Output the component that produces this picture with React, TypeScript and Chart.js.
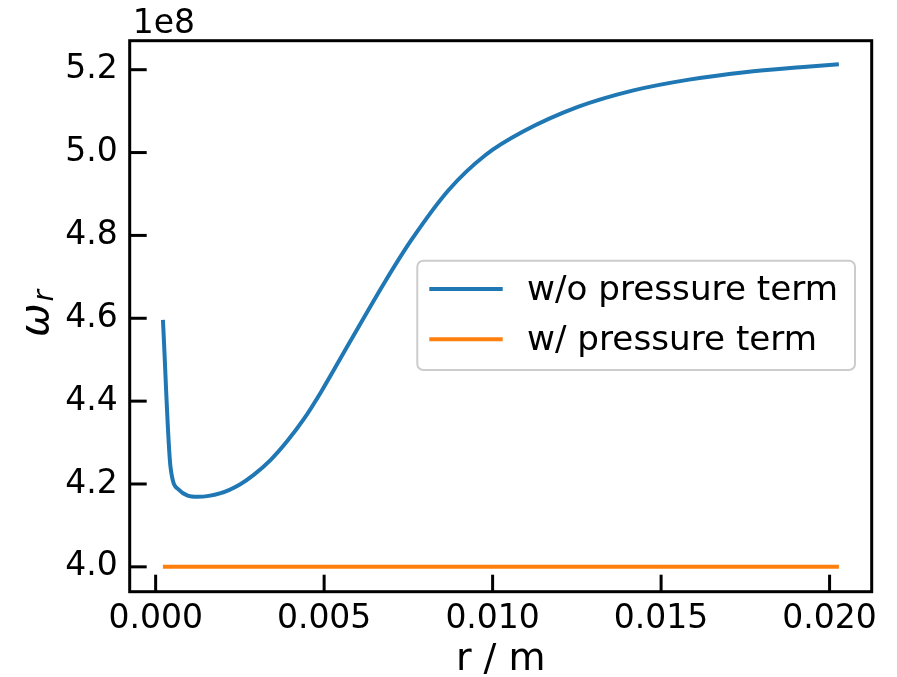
import React, { useEffect, useRef } from 'react';
import { Chart, registerables } from 'chart.js';

Chart.register(...registerables);

// ---------- data ----------
const radius = [
  0.000216, 0.000444, 0.00069, 0.00095, 0.00124, 0.00193, 0.0025, 0.00291,
  0.0034, 0.0039, 0.0044, 0.0049, 0.00578, 0.00682, 0.00759, 0.00869,
  0.00979, 0.01089, 0.01253, 0.01418, 0.01583, 0.01748, 0.01913, 0.020276,
];
const omegaNoPressure = [
  4.596e8, 4.239e8, 4.186e8, 4.172e8, 4.169e8, 4.178e8, 4.199e8, 4.222e8,
  4.257e8, 4.303e8, 4.357e8, 4.421e8, 4.545e8, 4.69e8, 4.789e8, 4.909e8,
  4.994e8, 5.05e8, 5.11e8, 5.15e8, 5.176e8, 5.194e8, 5.206e8, 5.213e8,
];
const radiusPressure = [0.000216, 0.020276];
const omegaPressure = [4.0e8, 4.0e8];

const seriesLabels = ['w/o pressure term', 'w/ pressure term'];
const seriesColors = ['#1f77b4', '#ff7f0e'];
const xTicks = [0, 0.005, 0.01, 0.015, 0.02];
const yTicks = [4.0e8, 4.2e8, 4.4e8, 4.6e8, 4.8e8, 5.0e8, 5.2e8];
const xRange = [-0.00077, 0.02125];
const yRange = [3.94e8, 5.27e8];
const xTitle = 'r / m';
const yTitleMain = 'ω';
const yTitleSub = 'r';
const offsetText = '1e8';

const FONT = '"DejaVu Sans", sans-serif';

const decorPlugin = {
  id: 'decor',
  afterDraw(chart: any) {
    const ctx = chart.ctx;
    const a = chart.chartArea;
    const xs = chart.scales.x;
    const ys = chart.scales.y;
    ctx.save();
    // frame
    ctx.strokeStyle = '#000';
    ctx.lineWidth = 3;
    ctx.strokeRect(a.left, a.top, a.right - a.left, a.bottom - a.top);
    // inward ticks
    ctx.lineWidth = 3;
    const tl = 17;
    xTicks.forEach((v) => {
      const px = xs.getPixelForValue(v);
      ctx.beginPath();
      ctx.moveTo(px, a.bottom);
      ctx.lineTo(px, a.bottom - tl);
      ctx.stroke();
    });
    yTicks.forEach((v) => {
      const py = ys.getPixelForValue(v);
      ctx.beginPath();
      ctx.moveTo(a.left, py);
      ctx.lineTo(a.left + tl, py);
      ctx.stroke();
    });
    // offset text
    ctx.fillStyle = '#000';
    ctx.font = `33px ${FONT}`;
    ctx.textAlign = 'left';
    ctx.textBaseline = 'alphabetic';
    ctx.fillText(offsetText, a.left + 3, 33);
    // x title
    ctx.font = `38px ${FONT}`;
    ctx.textAlign = 'center';
    ctx.fillText(xTitle, (a.left + a.right) / 2, 670);
    // y title
    ctx.save();
    ctx.translate(48, 337);
    ctx.rotate(-Math.PI / 2);
    ctx.textAlign = 'left';
    ctx.font = `italic 40px ${FONT}`;
    ctx.fillText(yTitleMain, 0, 0);
    const w = ctx.measureText(yTitleMain).width;
    ctx.font = `italic 28px ${FONT}`;
    ctx.fillText(yTitleSub, w + 2, 5);
    ctx.restore();
    // legend
    const lx = 417.3, ly = 260.7, lw = 855 - 417.3, lh = 370 - 260.7;
    ctx.beginPath();
    ctx.roundRect(lx, ly, lw, lh, 6);
    ctx.fillStyle = 'rgba(255,255,255,0.8)';
    ctx.fill();
    ctx.strokeStyle = '#cccccc';
    ctx.lineWidth = 2;
    ctx.stroke();
    const rows = [289, 339.3];
    rows.forEach((ry, i) => {
      ctx.strokeStyle = seriesColors[i];
      ctx.lineWidth = 4;
      ctx.beginPath();
      ctx.moveTo(429.3, ry);
      ctx.lineTo(502.7, ry);
      ctx.stroke();
      ctx.fillStyle = '#000';
      ctx.font = `34.2px ${FONT}`;
      ctx.textAlign = 'left';
      ctx.textBaseline = 'alphabetic';
      ctx.fillText(seriesLabels[i], 527, ry + 11);
    });
    ctx.restore();
  },
};

export default function App() {
  const ref = useRef<HTMLCanvasElement | null>(null);
  useEffect(() => {
    if (!ref.current) return;
    const chart = new Chart(ref.current, {
      type: 'line',
      data: {
        datasets: [
          {
            label: seriesLabels[0],
            data: radius.map((r, i) => ({ x: r, y: omegaNoPressure[i] })),
            borderColor: seriesColors[0],
            borderWidth: 4,
            pointRadius: 0,
            cubicInterpolationMode: 'monotone',
            fill: false,
          },
          {
            label: seriesLabels[1],
            data: radiusPressure.map((r, i) => ({ x: r, y: omegaPressure[i] })),
            borderColor: seriesColors[1],
            borderWidth: 4,
            pointRadius: 0,
            fill: false,
          },
        ],
      },
      options: {
        animation: false,
        responsive: false,
        maintainAspectRatio: false,
        devicePixelRatio: 1,
        layout: { padding: { left: 0, top: 40.7, right: 25.3, bottom: 0 } },
        plugins: { legend: { display: false }, tooltip: { enabled: false } },
        scales: {
          x: {
            type: 'linear',
            min: xRange[0],
            max: xRange[1],
            grid: { display: false, drawTicks: false },
            border: { display: false },
            afterFit: (s: any) => { s.height = 85.3; },
            afterBuildTicks: (s: any) => { s.ticks = xTicks.map((v) => ({ value: v })); },
            ticks: {
              color: '#000',
              font: { family: FONT, size: 33 },
              padding: 8,
              maxRotation: 0,
              autoSkip: false,
              callback: (v: any) => Number(v).toFixed(3),
            },
          },
          y: {
            type: 'linear',
            min: yRange[0],
            max: yRange[1],
            grid: { display: false, drawTicks: false },
            border: { display: false },
            afterFit: (s: any) => { s.width = 129.7; },
            afterBuildTicks: (s: any) => { s.ticks = yTicks.map((v) => ({ value: v })); },
            ticks: {
              color: '#000',
              font: { family: FONT, size: 33 },
              padding: 12,
              autoSkip: false,
              callback: (v: any) => (Number(v) / 1e8).toFixed(1),
            },
          },
        },
      },
      plugins: [decorPlugin],
    } as any);
    return () => chart.destroy();
  }, []);
  return (
    <div style={{ position: 'absolute', left: 0, top: 0, width: 897, height: 677, background: '#fff' }}>
      <canvas ref={ref} width={897} height={677} style={{ width: 897, height: 677, display: 'block' }} />
    </div>
  );
}
